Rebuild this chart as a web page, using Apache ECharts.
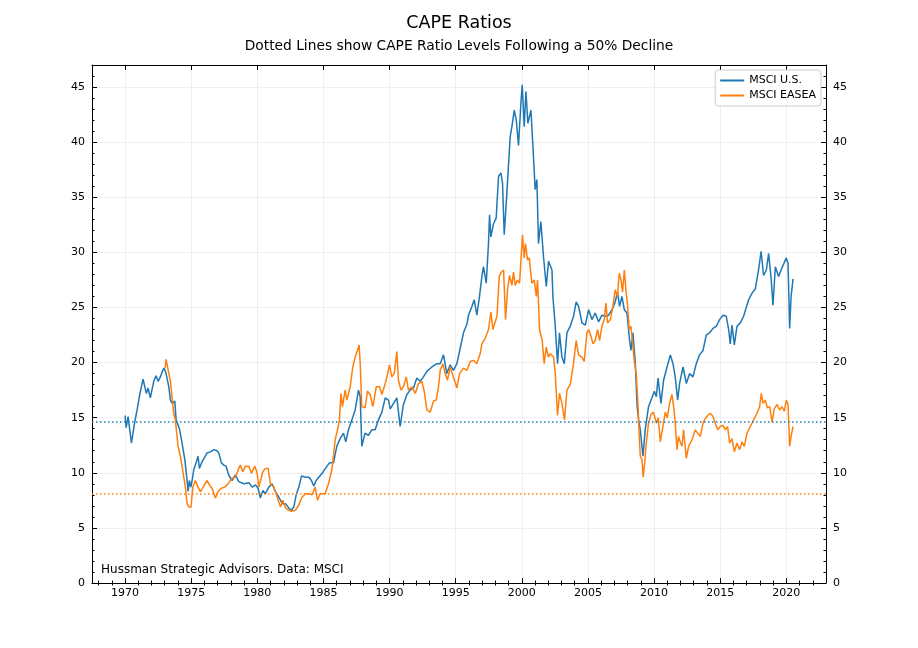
<!DOCTYPE html>
<html>
<head>
<meta charset="utf-8">
<script src="https://cdn.jsdelivr.net/npm/echarts@6/dist/echarts.min.js"></script>
<style>html,body{margin:0;padding:0;background:#fff}#chart{width:918px;height:648px}</style>
</head>
<body>
<div id="chart"></div>
<script>
// MSCI U.S. CAPE (year, value)
var usYears = [1970.0,1970.08,1970.23,1970.48,1970.73,1970.91,1971.11,1971.36,1971.61,1971.74,1971.91,1972.17,1972.34,1972.5,1972.67,1972.85,1972.95,1973.1,1973.31,1973.43,1973.56,1973.76,1973.86,1974.11,1974.31,1974.52,1974.69,1974.77,1974.86,1974.97,1975.07,1975.2,1975.37,1975.52,1975.62,1975.82,1976.2,1976.45,1976.71,1976.96,1977.09,1977.28,1977.47,1977.64,1977.84,1978.09,1978.34,1978.6,1978.98,1979.36,1979.61,1979.86,1980.06,1980.23,1980.42,1980.61,1980.87,1981.12,1981.37,1981.63,1981.88,1982.13,1982.38,1982.58,1982.76,1982.94,1983.14,1983.34,1983.64,1983.9,1984.09,1984.27,1984.45,1984.9,1985.15,1985.45,1985.76,1986.01,1986.26,1986.51,1986.69,1986.89,1987.15,1987.4,1987.65,1987.78,1987.9,1988.15,1988.4,1988.66,1988.91,1989.16,1989.42,1989.67,1989.92,1990.05,1990.3,1990.55,1990.8,1991.05,1991.31,1991.56,1991.81,1992.06,1992.31,1992.56,1992.82,1993.2,1993.58,1993.83,1994.08,1994.33,1994.58,1994.83,1995.09,1995.34,1995.59,1995.85,1995.97,1996.23,1996.4,1996.6,1996.8,1996.98,1997.1,1997.31,1997.48,1997.56,1997.66,1997.86,1998.06,1998.24,1998.42,1998.54,1998.67,1998.87,1999.12,1999.25,1999.43,1999.58,1999.75,1999.93,2000.03,2000.18,2000.31,2000.46,2000.69,2000.84,2001.01,2001.14,2001.26,2001.44,2001.64,2001.85,2002.02,2002.28,2002.35,2002.53,2002.7,2002.85,2003.03,2003.21,2003.41,2003.66,2003.91,2004.11,2004.29,2004.55,2004.8,2005.05,2005.3,2005.55,2005.8,2006.06,2006.31,2006.56,2006.82,2007.06,2007.24,2007.39,2007.57,2007.75,2007.95,2008.15,2008.25,2008.4,2008.58,2008.72,2008.83,2008.96,2009.16,2009.33,2009.58,2009.84,2010.02,2010.17,2010.3,2010.52,2010.72,2010.98,2011.23,2011.43,2011.6,2011.78,2011.93,2012.19,2012.44,2012.69,2012.94,2013.19,2013.44,2013.7,2013.95,2014.2,2014.46,2014.71,2014.95,2015.21,2015.46,2015.64,2015.76,2015.89,2016.07,2016.27,2016.52,2016.77,2017.15,2017.41,2017.66,2017.9,2018.09,2018.28,2018.49,2018.66,2018.84,2018.99,2019.17,2019.42,2019.6,2020.0,2020.13,2020.25,2020.36,2020.51];
var usCape = [15.2,14.1,15.1,12.7,14.6,15.7,17.1,18.5,17.2,17.7,16.8,18.3,18.8,18.3,18.7,19.3,19.5,19.0,17.8,16.6,16.3,16.5,14.8,14.0,12.7,11.2,9.3,8.3,9.3,8.7,9.3,10.3,10.9,11.5,10.4,11.0,11.8,11.9,12.1,12.0,11.8,10.9,10.7,10.6,9.8,9.3,9.8,9.2,9.0,9.1,8.7,8.9,8.6,7.7,8.4,8.1,8.7,9.0,8.3,7.8,7.2,7.2,6.8,6.6,6.9,8.0,8.7,9.7,9.6,9.6,9.3,8.8,9.3,9.95,10.4,10.9,10.9,12.4,13.1,13.6,12.8,13.9,14.8,15.7,17.5,16.9,12.4,13.6,13.4,13.9,13.9,14.8,15.5,16.8,16.6,15.8,16.3,16.8,14.2,16.2,17.1,17.5,17.7,18.6,18.3,18.7,19.2,19.6,19.9,19.9,20.7,19.0,19.8,19.3,19.9,21.3,22.7,23.5,24.3,25.1,25.7,24.3,26.0,27.8,28.7,27.2,30.8,33.4,31.4,32.6,33.1,36.9,37.2,36.3,31.6,35.4,40.5,41.4,42.9,42.0,39.7,43.5,45.2,41.4,44.6,41.7,42.9,39.6,35.7,36.6,30.8,32.8,29.6,26.9,29.2,28.4,26.0,23.3,19.9,22.7,20.5,19.9,22.7,23.3,24.2,25.5,25.1,23.6,23.4,24.8,23.9,24.5,23.7,24.3,24.2,24.3,24.8,25.5,26.4,25.1,26.0,24.8,24.5,22.0,21.1,22.7,20.0,16.0,14.8,13.9,11.5,13.9,16.0,16.8,17.4,16.9,18.6,16.3,18.4,19.6,20.7,19.9,18.7,16.6,18.1,19.6,18.1,19.0,18.7,19.9,20.7,21.1,22.5,22.7,23.1,23.3,23.9,24.3,24.2,23.0,21.7,23.4,21.6,23.3,23.6,24.2,25.7,26.3,26.7,28.4,30.1,27.9,28.4,29.9,27.8,25.2,28.7,27.8,28.4,29.5,29.0,23.1,26.0,27.6];

// MSCI EASEA CAPE (year, value)
var easeaYears = [1973.03,1973.1,1973.31,1973.43,1973.56,1973.68,1973.8,1974.01,1974.18,1974.31,1974.56,1974.69,1974.82,1974.99,1975.12,1975.32,1975.52,1975.7,1975.9,1976.2,1976.38,1976.58,1976.83,1977.03,1977.28,1977.54,1977.79,1978.09,1978.34,1978.6,1978.72,1978.9,1979.1,1979.36,1979.55,1979.81,1979.99,1980.11,1980.42,1980.61,1980.82,1980.99,1981.25,1981.5,1981.75,1981.93,1982.13,1982.38,1982.58,1982.88,1983.14,1983.39,1983.64,1983.9,1984.15,1984.37,1984.55,1984.75,1985.13,1985.38,1985.64,1985.89,1986.06,1986.21,1986.32,1986.44,1986.64,1986.77,1987.02,1987.22,1987.4,1987.57,1987.7,1987.78,1987.9,1988.15,1988.33,1988.53,1988.74,1988.99,1989.24,1989.42,1989.67,1989.84,1989.99,1990.17,1990.35,1990.55,1990.67,1990.86,1991.05,1991.26,1991.43,1991.69,1991.94,1992.19,1992.44,1992.62,1992.82,1993.07,1993.32,1993.53,1993.7,1993.83,1994.03,1994.21,1994.38,1994.58,1994.83,1995.09,1995.29,1995.59,1995.85,1996.1,1996.35,1996.6,1996.85,1996.98,1997.23,1997.48,1997.66,1997.81,1998.12,1998.29,1998.44,1998.62,1998.77,1998.92,1999.07,1999.25,1999.37,1999.5,1999.67,1999.83,1999.95,2000.05,2000.18,2000.28,2000.43,2000.56,2000.76,2000.94,2001.09,2001.19,2001.34,2001.54,2001.69,2001.85,2002.0,2002.15,2002.4,2002.53,2002.7,2002.85,2003.03,2003.23,2003.41,2003.66,2003.91,2004.11,2004.29,2004.55,2004.72,2004.92,2005.05,2005.23,2005.38,2005.55,2005.73,2005.88,2006.06,2006.23,2006.36,2006.48,2006.69,2006.89,2007.06,2007.22,2007.37,2007.5,2007.62,2007.75,2007.87,2008.0,2008.12,2008.25,2008.4,2008.5,2008.65,2008.78,2008.88,2008.96,2009.08,2009.18,2009.3,2009.41,2009.58,2009.77,2009.96,2010.17,2010.32,2010.47,2010.67,2010.85,2011.0,2011.17,2011.35,2011.48,2011.6,2011.73,2011.85,2011.98,2012.11,2012.23,2012.44,2012.61,2012.87,2013.12,2013.29,2013.5,2013.7,2013.87,2014.05,2014.25,2014.46,2014.63,2014.81,2015.01,2015.21,2015.39,2015.56,2015.71,2015.89,2016.07,2016.27,2016.47,2016.65,2016.82,2017.03,2017.28,2017.53,2017.78,2017.98,2018.11,2018.24,2018.41,2018.56,2018.74,2018.92,2019.09,2019.3,2019.49,2019.67,2019.85,2020.0,2020.13,2020.25,2020.36,2020.51];
var easeaCape = [19.5,20.3,19.0,18.3,16.8,15.4,14.8,12.4,11.5,10.6,8.7,7.2,6.9,6.9,8.7,9.3,8.7,8.3,8.7,9.3,8.9,8.6,7.7,8.3,8.6,8.7,9.0,9.5,9.6,10.4,10.7,10.1,10.6,10.6,9.95,10.6,9.95,8.7,10.1,10.4,10.4,9.0,8.7,7.8,6.9,7.5,6.8,6.6,6.5,6.6,7.1,7.8,8.1,8.1,8.0,8.7,7.5,8.1,8.1,9.0,10.3,13.0,13.9,14.8,17.2,16.0,17.5,16.6,17.8,19.6,20.5,21.1,21.6,19.9,16.0,15.9,17.4,17.1,16.0,17.8,17.8,17.1,18.1,18.9,19.8,18.7,19.0,21.0,18.4,17.5,17.8,18.7,17.5,17.8,17.2,18.1,18.3,17.4,15.7,15.5,16.5,16.6,17.8,19.3,19.9,19.0,18.4,19.6,18.7,17.7,19.0,19.5,19.3,20.1,20.2,19.9,20.8,21.7,22.2,23.0,24.6,23.0,24.2,27.8,28.2,28.4,23.9,26.6,27.9,27.0,28.2,27.0,27.5,27.2,29.6,31.6,29.5,30.8,29.3,29.5,27.2,27.5,26.0,27.5,23.0,22.0,19.9,21.4,20.5,20.8,20.5,19.0,15.2,17.2,16.3,14.8,17.5,18.0,19.9,22.0,20.7,20.5,20.1,22.7,23.0,22.4,21.7,22.0,23.0,22.0,23.3,23.9,25.4,23.6,23.9,25.1,26.6,26.0,28.1,27.5,26.4,28.4,26.6,25.1,23.0,23.3,23.4,20.2,19.0,16.3,13.3,11.5,11.2,9.6,11.0,12.7,14.5,15.3,15.5,14.5,15.0,12.8,14.2,15.5,15.0,16.3,17.1,16.0,14.5,12.1,13.3,12.8,12.4,13.9,11.3,12.4,13.0,13.9,13.6,13.3,14.5,14.9,15.2,15.4,15.1,14.5,13.9,14.2,14.3,13.9,14.2,12.7,13.1,11.9,12.7,12.1,12.8,12.4,13.6,14.2,14.8,15.4,16.0,17.2,16.3,16.6,15.9,16.0,14.6,15.8,16.2,15.7,16.0,15.6,16.6,16.2,12.4,13.3,14.2];

// CAPE levels following a 50% decline
var usDeclineLevel = 14.65;
var easeaDeclineLevel = 8.12;

// Tick labels / positions
var xMajorTicks = [1970, 1975, 1980, 1985, 1990, 1995, 2000, 2005, 2010, 2015, 2020];
var xMinorTicks = [1968,1969,1971,1972,1973,1974,1976,1977,1978,1979,1981,1982,1983,1984,1986,1987,1988,1989,1991,1992,1993,1994,1996,1997,1998,1999,2001,2002,2003,2004,2006,2007,2008,2009,2011,2012,2013,2014,2016,2017,2018,2019,2021,2022];
var yMinorTicks = [1,2,3,4,6,7,8,9,11,12,13,14,16,17,18,19,21,22,23,24,26,27,28,29,31,32,33,34,36,37,38,39,41,42,43,44,46];

var seriesNames = ['MSCI U.S.', 'MSCI EASEA'];
var colors = ['#1f77b4', '#ff7f0e'];

function pairs(xs, ys) { return xs.map(function (x, i) { return [x, ys[i]]; }); }

var FONT = 'DejaVu Sans';
var X_MIN = 1967.5, X_MAX = 2023, Y_MIN = 0, Y_MAX = 47;

function xAxisBase(extra) {
  var o = {
    type: 'value', min: X_MIN, max: X_MAX,
    axisLine: { show: false }, axisLabel: { show: false }, axisTick: { show: false },
    splitLine: { show: false }
  };
  for (var k in extra) o[k] = extra[k];
  return o;
}
function yAxisBase(extra) {
  var o = {
    type: 'value', min: Y_MIN, max: Y_MAX,
    axisLine: { show: false }, axisLabel: { show: false }, axisTick: { show: false },
    splitLine: { show: false }
  };
  for (var k in extra) o[k] = extra[k];
  return o;
}

var chart = echarts.init(document.getElementById('chart'), null, { renderer: 'canvas' });
chart.setOption({
  backgroundColor: '#ffffff',
  animation: false,
  textStyle: { fontFamily: FONT },
  title: [
    { text: 'CAPE Ratios', left: 'center', top: 9,
      textStyle: { fontFamily: FONT, fontSize: 17.5, fontWeight: 'normal', color: '#000' } },
    { text: 'Dotted Lines show CAPE Ratio Levels Following a 50% Decline', left: 'center', top: 34,
      textStyle: { fontFamily: FONT, fontSize: 13.8, fontWeight: 'normal', color: '#000' } }
  ],
  legend: {
    orient: 'vertical', right: 97, top: 70,
    data: seriesNames.map(function (n) { return { name: n, icon: 'rect' }; }),
    itemWidth: 24, itemHeight: 2, itemGap: 4,
    padding: [5, 5, 5, 5],
    borderColor: '#cccccc', borderWidth: 1, borderRadius: 3,
    backgroundColor: 'rgba(255,255,255,0.8)',
    textStyle: { fontFamily: FONT, fontSize: 11, color: '#000' }
  },
  grid: { left: 92, right: 92, top: 65, bottom: 65, containLabel: false },
  xAxis: [
    xAxisBase({
      position: 'bottom',
      minInterval: 5, maxInterval: 5, splitNumber: 11,
      axisLine: { show: true, onZero: false, lineStyle: { color: '#000', width: 1 } },
      axisTick: { show: true, inside: true, length: 5, lineStyle: { color: '#000' } },
      axisLabel: { show: true, showMinLabel: false, showMaxLabel: false, margin: 5,
        color: '#000', fontFamily: FONT, fontSize: 11,
        formatter: function (v) { return xMajorTicks.indexOf(v) >= 0 ? String(v) : ''; } },
      splitLine: { show: true, lineStyle: { color: '#ebebeb', width: 0.8 } }
    }),
    xAxisBase({ position: 'bottom',
      axisTick: { show: true, inside: true, length: 2.5, customValues: xMinorTicks, lineStyle: { color: '#000' } } }),
    xAxisBase({ position: 'top',
      minInterval: 5, maxInterval: 5, splitNumber: 11,
      axisLine: { show: true, onZero: false, lineStyle: { color: '#000', width: 1 } },
      axisTick: { show: true, inside: true, length: 5, lineStyle: { color: '#000' } } }),
    xAxisBase({ position: 'top',
      axisTick: { show: true, inside: true, length: 2.5, customValues: xMinorTicks, lineStyle: { color: '#000' } } })
  ],
  yAxis: [
    yAxisBase({ position: 'left', interval: 5,
      axisLine: { show: true, onZero: false, lineStyle: { color: '#000', width: 1 } },
      axisTick: { show: true, inside: true, length: 5, lineStyle: { color: '#000' } },
      axisLabel: { show: true, showMaxLabel: false, margin: 7, color: '#000', fontFamily: FONT, fontSize: 11,
        formatter: function (v) { return v % 5 === 0 ? String(v) : ''; } },
      splitLine: { show: true, lineStyle: { color: '#ebebeb', width: 0.8 } }
    }),
    yAxisBase({ position: 'right', interval: 5,
      axisLine: { show: true, onZero: false, lineStyle: { color: '#000', width: 1 } },
      axisTick: { show: true, inside: true, length: 5, lineStyle: { color: '#000' } },
      axisLabel: { show: true, showMaxLabel: false, margin: 7, color: '#000', fontFamily: FONT, fontSize: 11,
        formatter: function (v) { return v % 5 === 0 ? String(v) : ''; } }
    }),
    yAxisBase({ position: 'left',
      axisTick: { show: true, inside: true, length: 2.5, customValues: yMinorTicks, lineStyle: { color: '#000' } } }),
    yAxisBase({ position: 'right',
      axisTick: { show: true, inside: true, length: 2.5, customValues: yMinorTicks, lineStyle: { color: '#000' } } })
  ],
  graphic: [
    { type: 'text', left: 101, top: 564, z: 100,
      style: { text: 'Hussman Strategic Advisors. Data: MSCI', font: '12px "DejaVu Sans"', fill: '#000' } }
  ],
  series: [
    { name: seriesNames[0], type: 'line', xAxisIndex: 0, yAxisIndex: 0,
      data: pairs(usYears, usCape), showSymbol: false, symbol: 'none',
      lineStyle: { color: colors[0], width: 1.5 }, itemStyle: { color: colors[0] },
      markLine: { silent: true, symbol: 'none', label: { show: false },
        lineStyle: { color: colors[0], width: 1.5, type: [1.5, 2.5] },
        data: [{ yAxis: usDeclineLevel }] } },
    { name: seriesNames[1], type: 'line', xAxisIndex: 0, yAxisIndex: 0,
      data: pairs(easeaYears, easeaCape), showSymbol: false, symbol: 'none',
      lineStyle: { color: colors[1], width: 1.5 }, itemStyle: { color: colors[1] },
      markLine: { silent: true, symbol: 'none', label: { show: false },
        lineStyle: { color: colors[1], width: 1.5, type: [1.5, 2.5] },
        data: [{ yAxis: easeaDeclineLevel }] } }
  ]
});
</script>
</body>
</html>
